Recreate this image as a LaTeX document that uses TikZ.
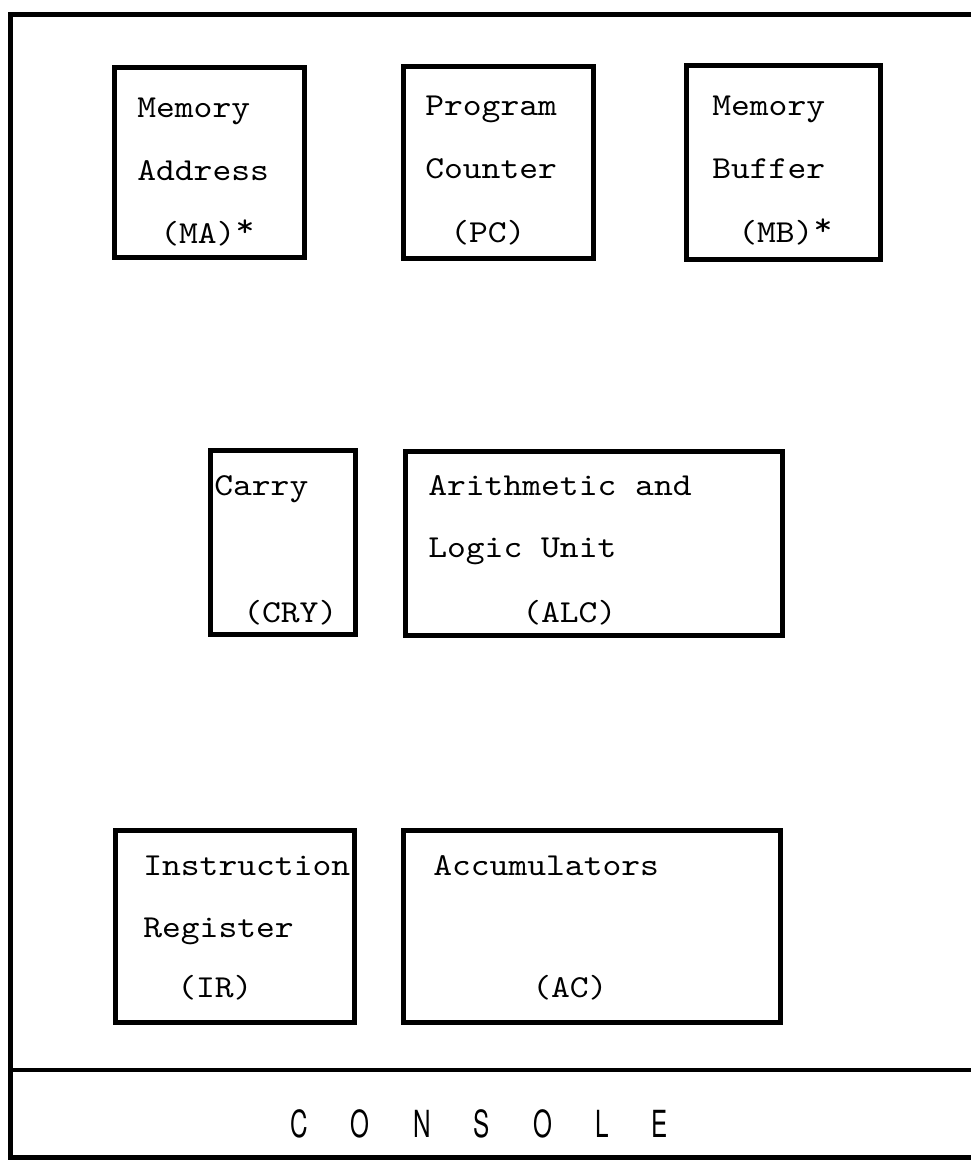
\documentclass[tikz,border=0pt]{standalone}
\usepackage{fontspec}
\newfontfamily\regfont[Extension=.otf, FakeStretch=1.12]{lmmono10-regular}
\newfontfamily\consolefont[FakeStretch=0.65,WordSpace=6.4]{TeX Gyre Heros}
\newcommand{\px}{0.75pt}
\newcommand{\regstar}{\raisebox{.2em}{*}}

\begin{document}
\begin{tikzpicture}[reg/.style={draw, rectangle, anchor=north west, line width=3.75pt, inner sep=0pt, outer sep=0pt},
    lbl/.style={anchor=base west, inner sep=0pt, font={\regfont\fontsize{24}{28}\selectfont}}]
    \useasboundingbox (0,0) rectangle (971*\px,-1160*\px);

    % Outer frame and console strip
    \draw[line width=3.75pt] (971*\px,-14*\px) -- (10*\px,-14*\px) -- (10*\px,-1157*\px) -- (971*\px,-1157*\px);
    \draw[line width=3.5pt] (10*\px,-1070*\px) -- (971*\px,-1070*\px);

    % First row
    \node[reg, minimum width=190*\px, minimum height=190*\px] (ma) at (114*\px,-67*\px) {};
    \node[reg, minimum width=190*\px, minimum height=192*\px] (pc) at (403*\px,-66*\px) {};
    \node[reg, minimum width=194*\px, minimum height=194*\px] (mb) at (686*\px,-65*\px) {};

    \node[lbl] (ma-1) at (137*\px,-117*\px) {Memory};
    \node[lbl] (ma-2) at (137*\px,-180*\px) {Address};
    \node[lbl] (ma-3) at (160*\px,-243*\px) {(MA)\regstar};
    \node[lbl] (pc-1) at (425*\px,-115*\px) {Program};
    \node[lbl] (pc-2) at (425*\px,-178*\px) {Counter};
    \node[lbl] (pc-3) at (450*\px,-242*\px) {(PC)};
    \node[lbl] (mb-1) at (712*\px,-115*\px) {Memory};
    \node[lbl] (mb-2) at (712*\px,-178*\px) {Buffer};
    \node[lbl] (mb-3) at (738*\px,-242*\px) {(MB)\regstar};

    % Second row
    \node[reg, minimum width=145*\px, minimum height=184*\px] (cry) at (210*\px,-450*\px) {};
    \node[reg, minimum width=377*\px, minimum height=184*\px] (alc) at (405*\px,-451*\px) {};

    \node[lbl] (cry-1) at (214*\px,-495*\px) {Carry};
    \node[lbl] (cry-2) at (243*\px,-622*\px) {(CRY)};
    \node[lbl] (alc-1) at (428*\px,-495*\px) {Arithmetic and};
    \node[lbl] (alc-2) at (428*\px,-557*\px) {Logic Unit};
    \node[lbl] (alc-3) at (522*\px,-622*\px) {(ALC)};

    % Third row
    \node[reg, minimum width=239*\px, minimum height=192*\px] (ir) at (115*\px,-830*\px) {};
    \node[reg, minimum width=377*\px, minimum height=192*\px] (ac) at (403*\px,-830*\px) {};

    \node[lbl] (ir-1) at (143*\px,-875*\px) {Instruction};
    \node[lbl] (ir-2) at (143*\px,-937*\px) {Register};
    \node[lbl] (ir-3) at (177*\px,-997*\px) {(IR)};
    \node[lbl] (ac-1) at (433*\px,-875*\px) {Accumulators};
    \node[lbl] (ac-3) at (532*\px,-997*\px) {(AC)};

    % Console
    \node[anchor=base west, inner sep=0pt, font={\consolefont\fontsize{28}{30}\selectfont}] (console) at (290*\px,-1137*\px) {C O N S O L E};

\end{tikzpicture}
\end{document}
